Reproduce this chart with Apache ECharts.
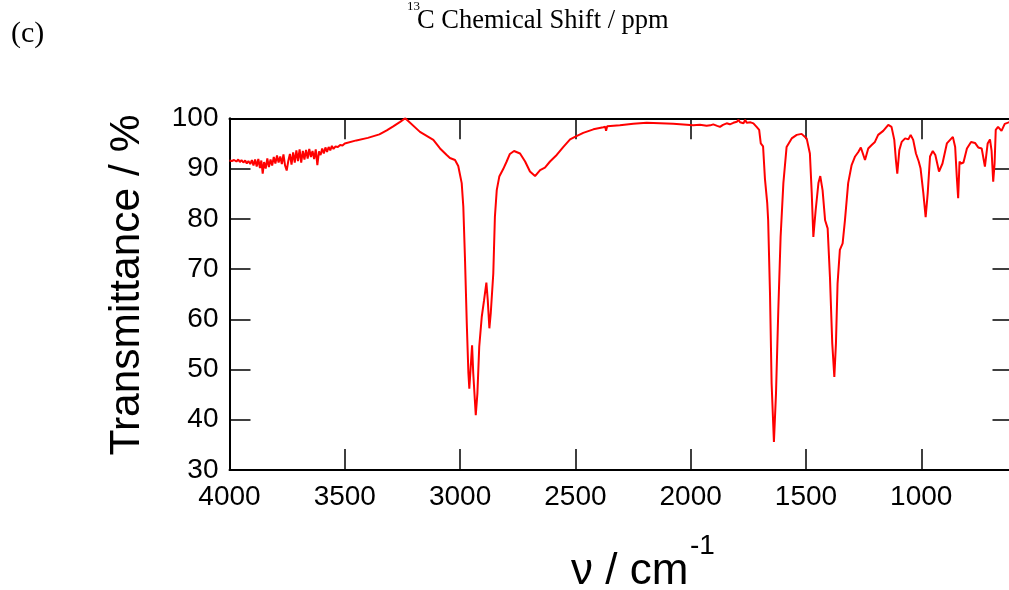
<!DOCTYPE html>
<html>
<head>
<meta charset="utf-8">
<script src="https://cdn.jsdelivr.net/npm/echarts@6/dist/echarts.min.js"></script>
<style>
html,body{margin:0;padding:0;background:#fff;}
#chart{width:1009px;height:590px;}
</style>
</head>
<body>
<div id="chart"></div>
<script>
// wavenumber (cm^-1), descending
const wavenumbers = [
4000,3990,3980,3970,3962,3955,3948,3940,3932,3925,3918,3910,3903,3896,3889,3882,3875,3868,3862,3856,
3850,3843,3836,3829,3822,3815,3808,3801,3794,3787,3780,3773,3766,3759,3752,3745,3738,3731,3724,3717,
3710,3703,3696,3689,3682,3675,3668,3661,3654,3647,3640,3633,3626,3619,3612,3605,3598,3591,3584,3577,
3570,3563,3556,3549,3540,3530,3520,3510,3500,3450,3400,3350,3318,3290,3260,3238,3174,3116,3087,3058,
3044,3022,3008,2993,2986,2979,2971,2964,2960,2954,2948,2943,2932,2925,2917,2906,2896,2886,2880,2873,
2867,2862,2856,2849,2841,2830,2813,2798,2784,2766,2740,2718,2697,2675,2653,2632,2610,2581,2552,2523,
2502,2466,2422,2379,2370,2367,2362,2307,2249,2191,2133,2076,2017,1989,1960,1931,1915,1902,1885,1873,
1860,1844,1830,1815,1800,1793,1786,1779,1771,1764,1757,1750,1740,1728,1714,1703,1696,1686,1678,1668,
1664,1656,1649,1639,1630,1620,1610,1598,1584,1562,1540,1519,1497,1483,1475,1468,1458,1446,1438,1428,
1417,1406,1396,1386,1377,1370,1363,1353,1341,1331,1317,1302,1287,1273,1262,1244,1230,1215,1201,1187,
1165,1143,1129,1117,1110,1104,1095,1085,1070,1056,1046,1035,1023,1011,1003,991,981,972,962,950,
939,923,908,889,875,863,853,846,840,834,827,817,802,784,767,753,738,724,712,702,
695,688,682,677,667,652,638,620,600
];
// transmittance (%)
const transmittance = [
91.6,91.5,91.7,91.4,91.8,91.3,91.7,91.2,91.6,91.0,91.5,90.9,91.7,90.6,91.8,90.4,91.9,90.1,91.6,89.0,
91.3,90.0,92.0,90.3,91.8,90.6,92.3,91.0,92.6,91.2,92.4,90.9,92.8,90.6,89.6,91.5,92.9,90.8,93.2,91.2,
93.6,91.5,93.8,91.2,93.5,91.8,93.7,92.0,93.9,92.3,93.5,91.9,93.8,90.7,93.4,92.7,94.0,93.0,94.2,93.3,
94.3,93.6,94.5,93.9,94.4,94.3,94.7,94.6,95.0,95.6,96.1,96.8,97.6,98.4,99.3,100.0,97.3,95.7,94.0,92.7,
92.1,91.7,90.5,87.1,82.4,72.4,59.2,49.3,46.2,50.5,54.8,49.3,40.9,45.2,54.5,60.5,63.8,67.3,63.8,58.2,
61.2,61.5,69.1,80.4,85.7,88.4,89.9,91.4,92.9,93.5,93.0,91.4,89.4,88.5,89.7,90.2,91.4,92.7,94.3,95.8,
96.3,97.1,97.8,98.2,98.3,97.5,98.4,98.6,98.9,99.1,99.0,98.9,98.7,98.6,98.7,98.5,98.6,98.8,98.5,98.3,
98.7,99.0,98.8,99.1,99.3,99.7,99.2,99.5,99.0,99.7,99.1,99.0,99.2,99.0,98.3,97.7,95.0,94.4,88.0,83.1,
79.7,65.1,47.2,35.6,45.2,61.8,76.4,87.1,94.3,96.0,96.7,96.9,96.0,93.0,85.1,76.4,81.7,87.1,88.5,85.7,
79.7,78.1,68.4,55.2,48.5,55.2,67.1,73.8,75.1,79.7,87.1,90.7,92.4,93.3,94.2,91.7,94.0,94.7,95.3,96.7,
97.5,98.7,98.3,95.7,91.7,89.0,93.7,95.3,96.0,95.8,96.7,95.7,93.0,91.4,90.0,85.1,80.3,85.1,92.4,93.5,
92.7,89.4,91.0,95.0,95.7,96.3,94.3,88.4,84.1,91.4,91.0,91.2,94.0,95.3,95.1,94.2,94.0,90.4,95.0,95.8,
93.5,87.4,91.0,97.7,98.3,97.5,98.9,99.2,99.4
];
const xTicks = [4000, 3500, 3000, 2500, 2000, 1500, 1000];
const yTicks = [30, 40, 50, 60, 70, 80, 90, 100];

const data = wavenumbers.map((w, i) => [w, transmittance[i]]);

const chart = echarts.init(document.getElementById('chart'), null, {renderer: 'canvas'});
const sans = 'Liberation Sans, Arial, sans-serif';
const serif = 'Liberation Serif, Times New Roman, serif';
const tickStyle = {show: true, inside: true, length: 21, lineStyle: {color: '#000', width: 1.5}};
const lineStyle = {show: true, onZero: false, lineStyle: {color: '#000', width: 2}};
const plain = v => String(v);

chart.setOption({
  animation: false,
  backgroundColor: '#fff',
  grid: {left: 229.5, top: 118.3, width: 784, height: 351.7, containLabel: false, outerBoundsMode: 'none'},
  xAxis: [
    {type: 'value', position: 'bottom', min: 600, max: 4000, inverse: true,
     axisLine: lineStyle, splitLine: {show: false},
     axisTick: Object.assign({customValues: xTicks}, tickStyle),
     axisLabel: {customValues: xTicks, formatter: plain, color: '#000', fontSize: 28, fontFamily: sans, margin: 13}},
    {type: 'value', position: 'top', min: 600, max: 4000, inverse: true,
     axisLine: lineStyle, splitLine: {show: false},
     axisTick: Object.assign({customValues: xTicks}, tickStyle),
     axisLabel: {show: false}}
  ],
  yAxis: [
    {type: 'value', position: 'left', min: 30, max: 100,
     axisLine: lineStyle, splitLine: {show: false},
     axisTick: Object.assign({customValues: yTicks}, tickStyle),
     axisLabel: {customValues: yTicks, formatter: plain, color: '#000', fontSize: 28, fontFamily: sans, margin: 11}},
    {type: 'value', position: 'right', min: 30, max: 100,
     axisLine: lineStyle, splitLine: {show: false},
     axisTick: Object.assign({customValues: yTicks}, tickStyle),
     axisLabel: {show: false}}
  ],
  series: [{
    type: 'line', xAxisIndex: 0, yAxisIndex: 0, data: data,
    showSymbol: false, symbol: 'none', smooth: false,
    lineStyle: {color: '#ff0000', width: 2}, itemStyle: {color: '#ff0000'}
  }],
  graphic: [
    {type: 'text', left: 11, top: 19, style: {text: '(c)', font: '30px ' + serif, fill: '#000'}},
    {type: 'text', x: 407, y: 7, style: {text: '13', font: '13px ' + serif, fill: '#000', verticalAlign: 'middle'}},
    {type: 'text', x: 417, y: 21, style: {text: 'C Chemical Shift / ppm', font: '26.5px ' + serif, fill: '#000', verticalAlign: 'middle'}},
    {type: 'text', x: 127, y: 285, rotation: Math.PI / 2,
     style: {text: 'Transmittance / %', font: '42.5px ' + sans, fill: '#000', align: 'center', verticalAlign: 'middle'}},
    {type: 'text', x: 571, y: 572, style: {text: 'ν / cm', font: '44px ' + sans, fill: '#000', verticalAlign: 'middle'}},
    {type: 'text', x: 690, y: 546, style: {text: '-1', font: '28px ' + sans, fill: '#000', verticalAlign: 'middle'}}
  ]
});
</script>
</body>
</html>
